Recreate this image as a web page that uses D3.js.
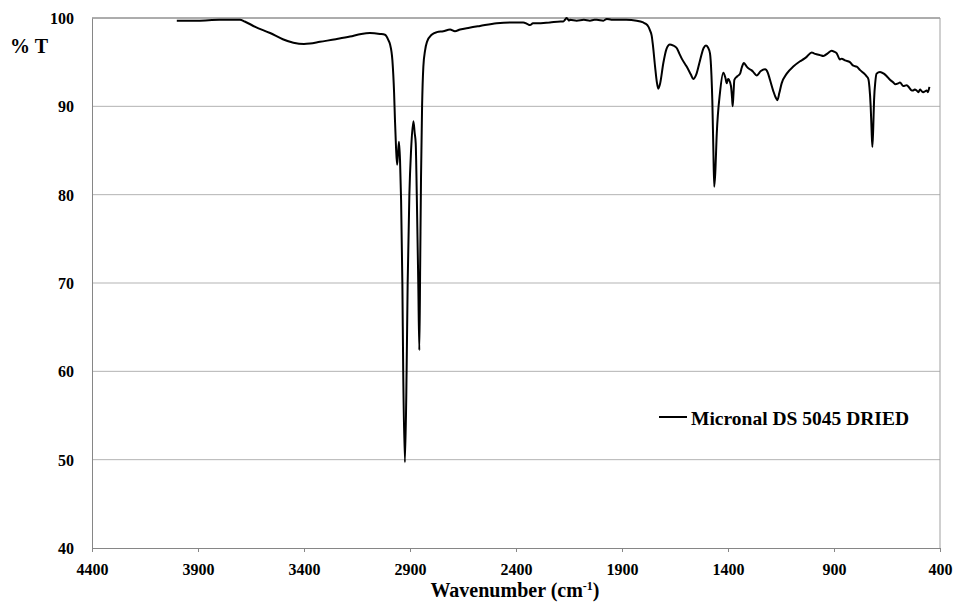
<!DOCTYPE html>
<html lang="en">
  <head>
    <meta charset="UTF-8" />
    <title>IR spectrum - Micronal DS 5045 DRIED</title>
    <style>
      body {
        margin: 0;
        background: #fff;
      }
      svg {
        display: block;
        font-family: "Liberation Serif", "Times New Roman", serif;
        font-weight: bold;
      }
      .tick text {
        font-size: 16px;
        font-family: "Liberation Serif", "Times New Roman", serif;
        font-weight: bold;
        fill: #000;
      }
    </style>
  </head>
  <body>
    <svg width="955" height="608"></svg>
    <script src="https://d3js.org/d3.v7.min.js"></script>
    <script>
      // spectrum: wavenumber (cm-1) and % transmittance
      const wavenumber = [
        4000, 3900, 3800, 3702, 3680, 3630, 3560, 3500, 3450, 3400, 3372, 3325,
        3250, 3183, 3130, 3089, 3042, 3018, 3002, 2994, 2983, 2975, 2971, 2966,
        2961, 2957, 2952, 2947, 2942, 2936, 2932, 2924, 2916, 2911, 2903, 2895,
        2884, 2878, 2873, 2868, 2861, 2856, 2852, 2848, 2843, 2837, 2829, 2820,
        2798, 2773, 2743, 2711, 2688, 2664, 2620, 2570, 2491, 2420, 2366, 2345,
        2334, 2320, 2302, 2240, 2190, 2177, 2169, 2161, 2150, 2145, 2114, 2080,
        2051, 2030, 2019, 1988, 1972, 1950, 1925, 1880, 1831, 1800, 1792, 1775,
        1768, 1760, 1755, 1744, 1736, 1729, 1720, 1705, 1690, 1674, 1660, 1642,
        1630, 1618, 1595, 1575, 1564, 1550, 1532, 1515, 1504, 1495, 1485, 1478,
        1474, 1469, 1465, 1460, 1453, 1438, 1422, 1412, 1406, 1400, 1395, 1386,
        1381, 1378, 1374, 1370, 1356, 1343, 1335, 1325, 1315, 1304, 1290, 1281,
        1265, 1245, 1225, 1212, 1202, 1186, 1175, 1167, 1158, 1147, 1123, 1092,
        1060, 1040, 1029, 1005, 995, 982, 965, 950, 930, 911, 900, 887, 872,
        864, 848, 825, 809, 793, 777, 762, 746, 738, 733, 727, 723, 719, 715,
        711, 705, 699, 683, 665, 651, 636, 620, 612, 597, 589, 573, 557, 545,
        533, 526, 520, 510, 502, 494, 486, 479, 471, 463, 457, 450,
      ];
      const transmittance = [
        99.7, 99.7, 99.8, 99.8, 99.6, 99.0, 98.3, 97.6, 97.2, 97.05, 97.1, 97.3,
        97.6, 97.9, 98.2, 98.3, 98.2, 98.1, 97.5, 97.0, 95.2, 91.5, 88.5, 85.4,
        83.4, 84.5, 86.0, 83.9, 79.4, 70.0, 60.0, 49.7, 60.0, 70.0, 80.0, 85.0,
        88.3, 87.0, 85.8, 80.0, 70.0, 62.4, 72.0, 82.0, 90.0, 94.5, 96.3, 97.3,
        98.1, 98.4, 98.5, 98.7, 98.5, 98.7, 98.9, 99.1, 99.4, 99.5, 99.5, 99.3,
        99.2, 99.4, 99.4, 99.5, 99.6, 99.6, 99.8, 100.0, 99.7, 99.8, 99.7, 99.8,
        99.7, 99.8, 99.8, 99.7, 99.9, 99.8, 99.8, 99.8, 99.7, 99.5, 99.4, 99.0,
        98.6, 98.0, 97.1, 94.5, 92.8, 92.0, 92.6, 94.9, 96.5, 97.0, 96.9, 96.6,
        96.0, 95.4, 94.5, 93.6, 93.1, 93.6, 95.2, 96.6, 96.9, 96.7, 96.0, 93.5,
        90.7, 85.0, 80.9, 82.5, 86.9, 91.5, 93.8, 93.2, 92.6, 93.1, 93.0, 92.3,
        91.0, 90.0, 91.5, 93.0, 93.4, 93.7, 94.4, 94.9, 94.6, 94.3, 94.1, 93.9,
        93.5, 94.0, 94.2, 93.8, 93.0, 91.7, 91.0, 90.7, 91.5, 92.6, 93.7, 94.5,
        95.1, 95.4, 95.6, 96.1, 96.0, 95.9, 95.8, 95.7, 96.0, 96.3, 96.2, 96.0, 95.3,
        95.4, 95.2, 95.0, 94.6, 94.5, 94.1, 93.8, 93.4, 93.1, 92.2, 90.0, 87.5, 85.4, 87.5,
        90.7, 92.8, 93.7, 93.9, 93.7, 93.4, 93.0, 92.7, 92.5, 92.6, 92.7, 92.3, 92.4, 92.1,
        91.8, 91.8, 91.9, 91.8, 91.6, 91.9, 91.7, 91.6, 91.7, 91.8, 91.6, 92.2,
      ];
      const xTicks = [4400, 3900, 3400, 2900, 2400, 1900, 1400, 900, 400];
      const yTicks = [40, 50, 60, 70, 80, 90, 100];
      const seriesName = "Micronal DS 5045 DRIED";

      const data = wavenumber.map((w, i) => ({ w: w, t: transmittance[i] }));

      const svg = d3.select("svg");
      const margin = { left: 92, right: 15, top: 18, bottom: 60 };
      const width = 955, height = 608;

      const x = d3.scaleLinear().domain([4400, 400]).range([margin.left, width - margin.right]);
      const y = d3.scaleLinear().domain([40, 100]).range([height - margin.bottom, margin.top]);

      // horizontal gridlines
      svg
        .append("g")
        .selectAll("line")
        .data(yTicks.filter((d) => d > 40 && d < 100))
        .join("line")
        .attr("x1", x(4400))
        .attr("x2", x(400))
        .attr("y1", (d) => y(d))
        .attr("y2", (d) => y(d))
        .attr("stroke", "#b3b3b3")
        .attr("stroke-width", 1);

      // top and right border
      svg
        .append("line")
        .attr("x1", x(4400))
        .attr("x2", x(400))
        .attr("y1", y(100))
        .attr("y2", y(100))
        .attr("stroke", "#5a5a5a");
      svg
        .append("line")
        .attr("x1", x(400))
        .attr("x2", x(400))
        .attr("y1", y(100))
        .attr("y2", y(40))
        .attr("stroke", "#a0a0a0");

      const xAxis = svg
        .append("g")
        .attr("transform", `translate(0,${y(40)})`)
        .call(d3.axisBottom(x).tickValues(xTicks).tickSize(4).tickPadding(12).tickFormat(d3.format("d")));
      xAxis.attr("font-family", null).attr("font-size", null);
      xAxis.selectAll("path, line").attr("stroke", "#868686");

      const yAxis = svg
        .append("g")
        .attr("transform", `translate(${x(4400)},0)`)
        .call(d3.axisLeft(y).tickValues(yTicks).tickSize(0).tickPadding(18));
      yAxis.attr("font-family", null).attr("font-size", null);
      yAxis.select(".domain").attr("stroke", "#868686");
      yAxis.selectAll(".tick text").attr("dy", "0.34em");

      // spectrum
      const line = d3
        .line()
        .x((d) => x(d.w))
        .y((d) => y(d.t))
        .curve(d3.curveMonotoneX);

      svg
        .append("path")
        .datum(data)
        .attr("fill", "none")
        .attr("stroke", "#000")
        .attr("stroke-width", 2)
        .attr("stroke-linejoin", "round")
        .attr("d", line);

      // y axis title
      svg
        .append("text")
        .attr("x", 10)
        .attr("y", 53)
        .attr("font-size", 20)
        .text("% T");

      // x axis title
      const xt = svg
        .append("text")
        .attr("x", 515)
        .attr("y", 597)
        .attr("text-anchor", "middle")
        .attr("font-size", 20);
      xt.append("tspan").text("Wavenumber (cm");
      xt.append("tspan").attr("font-size", 12).attr("dy", -7).text("-1");
      xt.append("tspan").attr("dy", 7).text(")");

      // legend
      const legend = svg.append("g");
      legend
        .append("line")
        .attr("x1", 659)
        .attr("x2", 687)
        .attr("y1", 417)
        .attr("y2", 417)
        .attr("stroke", "#000")
        .attr("stroke-width", 2);
      legend
        .append("text")
        .attr("x", 691)
        .attr("y", 425)
        .attr("font-size", 19)
        .attr("textLength", 218)
        .attr("lengthAdjust", "spacingAndGlyphs")
        .text(seriesName);
    </script>
  </body>
</html>
